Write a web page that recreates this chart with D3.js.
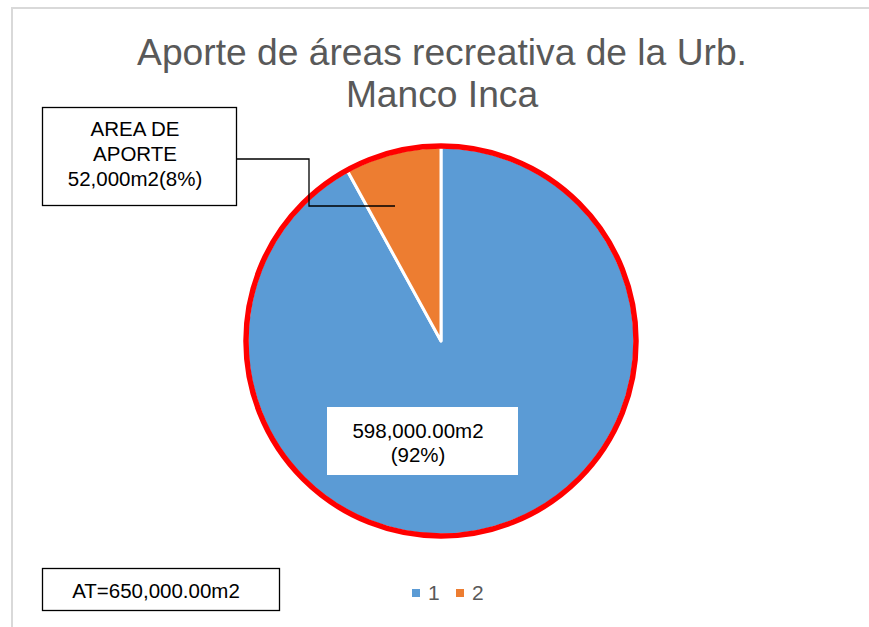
<!DOCTYPE html>
<html><head><meta charset="utf-8">
<script src="https://cdn.jsdelivr.net/npm/d3@7"></script>
<style>html,body{margin:0;padding:0;background:#fff;}svg{display:block;}</style>
</head><body>
<svg id="c" width="869" height="627"></svg>
<script>
const categories = ["1", "2"];
const values = [598000, 52000];
const colors = ["#5B9BD5", "#ED7D31"];
const titleLines = ["Aporte de áreas recreativa de la Urb.", "Manco Inca"];
const calloutLines = ["AREA DE", "APORTE", "52,000m2(8%)"];
const mainLabelLines = ["598,000.00m2", "(92%)"];
const totalLabel = "AT=650,000.00m2";

const svg = d3.select("#c");
const font = "Liberation Sans, Arial, sans-serif";

// chart frame
svg.append("path").attr("d", "M12,627 V8 H869").attr("fill", "none")
  .attr("stroke", "#d9d9d9").attr("stroke-width", 2);

// title
svg.append("text").attr("text-anchor", "middle")
  .attr("font-family", font).attr("font-size", 37.2).attr("fill", "#595959")
  .selectAll("tspan").data(titleLines).join("tspan")
  .attr("x", 442).attr("y", (d, i) => 65 + i * 41.5).text(d => d);

// pie
const cx = 441, cy = 341, r = 194;
const pie = d3.pie().sort(null).value(d => d)(values);
const arc = d3.arc().innerRadius(0).outerRadius(r);
const g = svg.append("g").attr("transform", `translate(${cx},${cy})`);
g.selectAll("path").data(pie).join("path")
  .attr("d", arc).attr("fill", (d, i) => colors[i])
  .attr("stroke", "#fff").attr("stroke-width", 3).attr("stroke-linejoin", "round");
g.append("circle").attr("r", r + 1).attr("fill", "none").attr("stroke", "#ff0000").attr("stroke-width", 5.5);

// callout leader line
svg.append("path").attr("d", "M236,159 H309 V206 H395").attr("fill", "none")
  .attr("stroke", "#000").attr("stroke-width", 1.3);

// callout box
svg.append("rect").attr("x", 42.5).attr("y", 107.5).attr("width", 194).attr("height", 98)
  .attr("fill", "#fff").attr("stroke", "#000").attr("stroke-width", 1.3);
svg.append("text").attr("font-family", font).attr("font-size", 20.5).attr("fill", "#000")
  .attr("text-anchor", "middle")
  .selectAll("tspan").data(calloutLines).join("tspan")
  .attr("x", 135).attr("y", (d, i) => 136 + i * 25).text(d => d);

// main label
svg.append("rect").attr("x", 327).attr("y", 407).attr("width", 191).attr("height", 68).attr("fill", "#fff");
svg.append("text").attr("font-family", font).attr("font-size", 20.5).attr("fill", "#000")
  .attr("text-anchor", "middle")
  .selectAll("tspan").data(mainLabelLines).join("tspan")
  .attr("x", 418).attr("y", (d, i) => 438 + i * 23.5).text(d => d);

// total box
svg.append("rect").attr("x", 42.5).attr("y", 568.5).attr("width", 237).attr("height", 42)
  .attr("fill", "#fff").attr("stroke", "#000").attr("stroke-width", 1.3);
svg.append("text").attr("x", 156).attr("y", 598).attr("text-anchor", "middle")
  .attr("font-family", font).attr("font-size", 20.5).attr("fill", "#000").text(totalLabel);

// legend
const lx = d3.scalePoint().domain(categories).range([412, 456]);
const lg = svg.append("g").selectAll("g").data(categories).join("g")
  .attr("transform", d => `translate(${lx(d)},0)`);
lg.append("rect").attr("x", 0).attr("y", 589).attr("width", 8).attr("height", 8)
  .attr("fill", (d, i) => colors[i]);
lg.append("text").attr("x", 16).attr("y", 600).attr("font-family", font)
  .attr("font-size", 21).attr("fill", "#595959").text(d => d);
</script>
</body></html>
